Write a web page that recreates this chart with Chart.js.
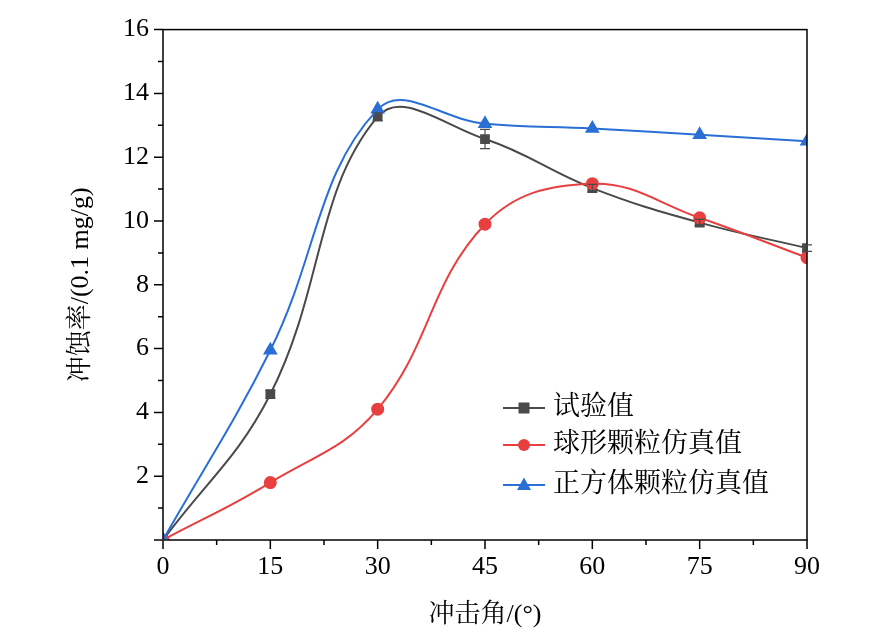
<!DOCTYPE html>
<html><head><meta charset="utf-8">
<script src="https://cdn.jsdelivr.net/npm/chart.js@4"></script>
<style>body{margin:0;background:#fff}#wrap{width:886px;height:635px}</style>
</head><body><div id="wrap"><canvas id="c"></canvas></div>
<script>
const angles = [0, 15, 30, 45, 60, 75, 90];
const testVals = [0, 4.57, 13.27, 12.57, 11.03, 9.95, 9.15];
const testErr = [0, 0.12, 0.12, 0.3, 0.12, 0.1, 0.1];
const sphereVals = [0, 1.8, 4.1, 9.9, 11.17, 10.1, 8.85];
const cubeVals = [0, 5.95, 13.5, 13.05, 12.9, 12.7, 12.5];
const names = ['试验值', '球形颗粒仿真值', '正方体颗粒仿真值'];
const colors = ['#4a4a4a', '#e84040', '#2a6fd6'];
const shapes = ['rect', 'circle', 'triangle'];

const serif = '"Liberation Serif", "Times New Roman", serif';
const cjk = '"Liberation Serif", "Noto Serif CJK SC", "Noto Sans CJK SC", serif';

function pts(v) { return angles.map((a, i) => ({ x: a, y: v[i] })); }

const frame = {
  id: 'frame',
  afterDraw(chart) {
    const { ctx, chartArea: a, scales: { x, y } } = chart;
    ctx.save();
    ctx.strokeStyle = '#000'; ctx.lineWidth = 1.5;
    ctx.strokeRect(a.left, a.top, a.right - a.left, a.bottom - a.top);
    ctx.beginPath();
    for (let v = 0; v <= 90; v += 7.5) {
      const px = x.getPixelForValue(v), len = v % 15 === 0 ? 9 : 5;
      ctx.moveTo(px, a.bottom); ctx.lineTo(px, a.bottom + len);
    }
    for (let v = 0; v <= 16; v += 1) {
      const py = y.getPixelForValue(v), len = v % 2 === 0 ? 9 : 5;
      ctx.moveTo(a.left, py); ctx.lineTo(a.left - len, py);
    }
    ctx.stroke();
    // error bars
    ctx.strokeStyle = colors[0]; ctx.lineWidth = 1.2;
    angles.forEach((ang, i) => {
      const px = x.getPixelForValue(ang);
      const t = y.getPixelForValue(testVals[i] + testErr[i]);
      const b = y.getPixelForValue(testVals[i] - testErr[i]);
      ctx.beginPath();
      ctx.moveTo(px, t); ctx.lineTo(px, b);
      ctx.moveTo(px - 5, t); ctx.lineTo(px + 5, t);
      ctx.moveTo(px - 5, b); ctx.lineTo(px + 5, b);
      ctx.stroke();
    });
    // legend
    ctx.font = '27px ' + cjk; ctx.textBaseline = 'middle';
    [408, 445, 485].forEach((ly, i) => {
      ctx.strokeStyle = colors[i]; ctx.lineWidth = 2;
      ctx.beginPath(); ctx.moveTo(503, ly); ctx.lineTo(545, ly); ctx.stroke();
      ctx.fillStyle = colors[i];
      const cx = 524;
      ctx.beginPath();
      if (i === 0) ctx.rect(cx - 5.5, ly - 5.5, 11, 11);
      else if (i === 1) ctx.arc(cx, ly, 6, 0, Math.PI * 2);
      else { ctx.moveTo(cx, ly - 7.5); ctx.lineTo(cx + 7, ly + 5); ctx.lineTo(cx - 7, ly + 5); ctx.closePath(); }
      ctx.fill();
      ctx.fillStyle = '#000';
      ctx.fillText(names[i], 553, ly);
    });
    ctx.restore();
  }
};

const ds = [testVals, sphereVals, cubeVals].map((v, i) => ({
  label: names[i], data: pts(v),
  borderColor: colors[i], backgroundColor: colors[i], borderWidth: 2,
  pointStyle: shapes[i], pointRadius: i === 2 ? 6.5 : 5.5, pointHoverRadius: 6,
  tension: 0.4, cubicInterpolationMode: 'default'
}));
ds.reverse();

new Chart(document.getElementById('c'), {
  type: 'line',
  data: { datasets: ds },
  options: {
    animation: false, responsive: true, maintainAspectRatio: false,
    layout: { padding: { left: 62, right: 79, top: 3, bottom: 0 } },
    plugins: { legend: { display: false }, tooltip: { enabled: false } },
    scales: {
      x: {
        type: 'linear', min: 0, max: 90,
        afterBuildTicks(s) { s.ticks = angles.map(v => ({ value: v })); },
        grid: { display: false, drawTicks: false }, border: { display: false },
        ticks: { color: '#000', font: { size: 26, family: serif }, padding: 12 },
        title: { display: true, text: '冲击角/(°)', color: '#000', font: { size: 26, family: cjk }, padding: { top: 2 } },
        afterFit(s) { s.height = 95; }
      },
      y: {
        min: 0, max: 16,
        afterBuildTicks(s) { s.ticks = [2, 4, 6, 8, 10, 12, 14, 16].map(v => ({ value: v })); },
        grid: { display: false, drawTicks: false }, border: { display: false },
        ticks: { color: '#000', font: { size: 26, family: serif }, padding: 14 },
        title: { display: true, text: '冲蚀率/(0.1 mg/g)', color: '#000', font: { size: 26, family: cjk } },
        afterFit(s) { s.width = 101; }
      }
    }
  },
  plugins: [frame]
});
</script></body></html>
